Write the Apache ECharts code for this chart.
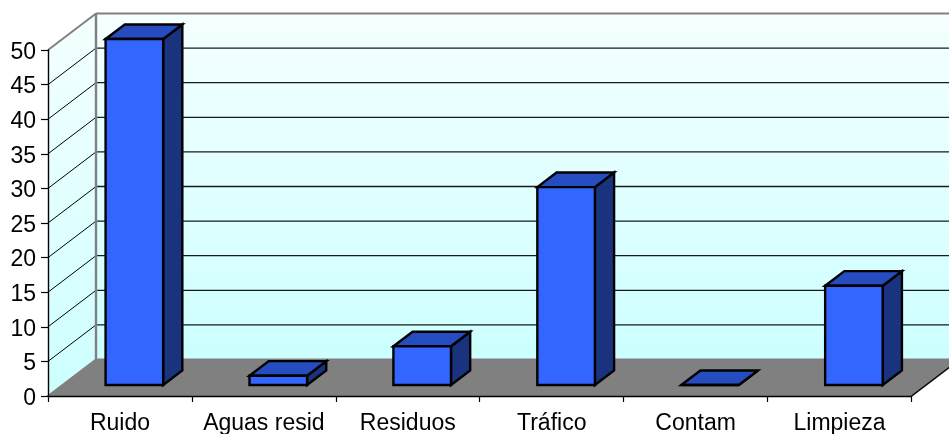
<!DOCTYPE html>
<html>
<head>
<meta charset="utf-8">
<style>
html, body { margin: 0; padding: 0; background: #fff; }
#chart { width: 949px; height: 434px; }
</style>
<script src="https://cdn.jsdelivr.net/npm/echarts@6/dist/echarts.min.js"></script>
</head>
<body>
<div id="chart"></div>
<script>
var categories = ['Ruido', 'Aguas resid', 'Residuos', 'Tráfico', 'Contam', 'Limpieza'];
var values = [50, 1.35, 5.6, 28.6, 0, 14.35];
var gridValues = [5, 10, 15, 20, 25, 30, 35, 40, 45];

// depth of the fake 3D box, in pixels
var depthX = 48;
var depthY = 36.5;

function poly(points, fill, stroke, width) {
    return {
        type: 'polygon',
        shape: { points: points },
        style: { fill: fill, stroke: stroke, lineWidth: width, lineJoin: 'miter' }
    };
}

function line(a, b, color, width) {
    return {
        type: 'line',
        shape: { x1: a[0], y1: a[1], x2: b[0], y2: b[1] },
        style: { stroke: color, lineWidth: width }
    };
}

function wallGradient() {
    return new echarts.graphic.LinearGradient(0, 0, 0, 1, [
        { offset: 0, color: '#f5ffff' },
        { offset: 1, color: '#ccffff' }
    ]);
}

function renderWalls(params, api) {
    var w = api.size([1, 0])[0];
    var n = categories.length;
    var left = api.coord([0, 0])[0] - w / 2;
    var right = left + w * n;
    var y0 = api.coord([0, 0])[1];
    var yTop = api.coord([0, 50])[1];
    var bx = left + depthX;
    var far = right + depthX;
    var kids = [
        poly([[left, yTop], [bx, yTop - depthY], [bx, y0 - depthY], [left, y0]], wallGradient()),
        poly([[bx, yTop - depthY], [far, yTop - depthY], [far, y0 - depthY], [bx, y0 - depthY]], wallGradient()),
        poly([[left, y0], [bx, y0 - depthY], [far, y0 - depthY], [right, y0]], '#808080', '#808080', 2)
    ];
    gridValues.forEach(function (v) {
        var y = api.coord([0, v])[1];
        kids.push(line([left, y], [bx, y - depthY], '#000', 1));
        kids.push(line([bx, y - depthY], [far, y - depthY], '#1a1a1a', 1.3));
    });
    kids.push(line([left, yTop], [bx, yTop - depthY], '#808080', 2));
    kids.push(line([bx, yTop - depthY], [far, yTop - depthY], '#808080', 2));
    kids.push(line([bx, yTop - depthY], [bx, y0 - depthY], '#808080', 2.4));
    kids.push(line([right, y0], [far, y0 - depthY], '#000', 1.2));
    return { type: 'group', children: kids };
}

function renderBar(params, api) {
    var i = api.value(0);
    var w = api.size([1, 0])[0];
    var base = api.coord([i, 0]);
    var top = api.coord([i, api.value(1)]);
    var barW = w * 0.4;
    var x1 = base[0] + depthX * 0.3 - barW / 2;
    var x2 = x1 + barW;
    var yb = base[1] - depthY * 0.3;
    var yt = top[1] - depthY * 0.3;
    var dx = depthX * 0.4;
    var dy = depthY * 0.4;
    return {
        type: 'group',
        children: [
            poly([[x2, yt], [x2 + dx, yt - dy], [x2 + dx, yb - dy], [x2, yb]], '#1a337f', '#000', 2.4),
            poly([[x1, yt], [x1 + dx, yt - dy], [x2 + dx, yt - dy], [x2, yt]], '#264dbf', '#000', 2.4),
            poly([[x1, yt], [x2, yt], [x2, yb], [x1, yb]], '#3366ff', '#000', 2.4)
        ]
    };
}

var labelFont = { color: '#000', fontFamily: 'Liberation Sans', fontSize: 23 };

var option = {
    animation: false,
    grid: { left: 48, right: 37.5, top: 50, bottom: 38, outerBoundsMode: 'none' },
    xAxis: {
        type: 'category',
        data: categories,
        z: 1,
        axisLine: { lineStyle: { color: '#000', width: 1.4 } },
        axisTick: { show: true, alignWithLabel: false, length: 6, lineStyle: { color: '#000', width: 1.2 } },
        axisLabel: Object.assign({ margin: 16, interval: 0 }, labelFont),
        splitLine: { show: false }
    },
    yAxis: {
        type: 'value',
        min: 0,
        max: 50,
        interval: 5,
        z: 1,
        axisLine: { show: true, lineStyle: { color: '#000', width: 1.4 } },
        axisTick: { show: true, length: 7, lineStyle: { color: '#000', width: 1.2 } },
        axisLabel: Object.assign({ margin: 12, verticalAlign: 'top', lineHeight: 5 }, labelFont),
        splitLine: { show: false }
    },
    series: [{
        type: 'custom',
        z: 0,
        silent: true,
        clip: false,
        renderItem: renderWalls,
        encode: { x: 0, y: 1 },
        data: [[0, 0]]
    },
    {
        type: 'custom',
        z: 2,
        silent: true,
        clip: false,
        renderItem: renderBar,
        encode: { x: 0, y: 1 },
        data: values.map(function (v, i) { return [i, v]; })
    }]
};

echarts.init(document.getElementById('chart')).setOption(option);
</script>
</body>
</html>
